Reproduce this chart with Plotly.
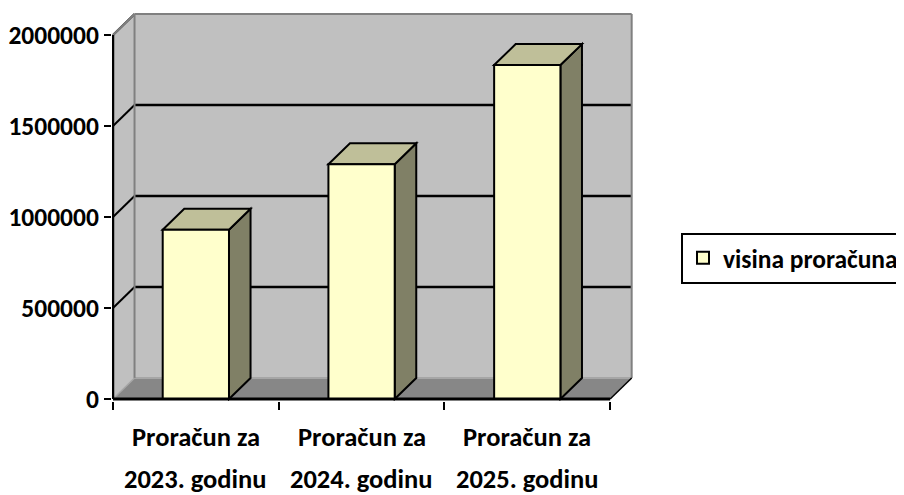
import plotly.graph_objects as go

# ---- data ----
categories_line1 = ["Proračun za", "Proračun za", "Proračun za"]
categories_line2 = ["2023. godinu", "2024. godinu", "2025. godinu"]
values = [930000, 1290000, 1835000]
series_name = "visina proračuna"
y_ticks = [0, 500000, 1000000, 1500000, 2000000]

# ---- style / geometry constants ----
FONT = "Carlito, Calibri, Lato, sans-serif"
FS = 26.5
FS_TICK = 25.5
BAR_W = 0.4          # bar width in category units
DX = 0.13            # depth offset (category units)
DY = 115000          # depth offset (value units)
YMAX = y_ticks[-1]
n = len(values)
xs = list(range(n))

FRONT = "#FFFFCC"
TOP = "#BFBF99"
SIDE = "#808066"
WALL = "#C0C0C0"
FLOOR = "#878787"
EDGE = "#808080"

fig = go.Figure()
fig.add_trace(go.Bar(
    x=xs, y=values, width=BAR_W, name=series_name,
    marker=dict(color=FRONT, line=dict(color="black", width=2)),
    showlegend=True, hoverinfo="y",
))

shapes = []
L, R = -0.5, n - 0.5

def poly(pts, fill, lc="black", lw=0, layer="below"):
    path = "M " + " L ".join(f"{x},{y}" for x, y in pts) + " Z"
    return dict(type="path", path=path, xref="x", yref="y", fillcolor=fill,
                line=dict(color=lc, width=lw), layer=layer)

def line(x0, y0, x1, y1, color="black", width=2, layer="below"):
    return dict(type="line", x0=x0, y0=y0, x1=x1, y1=y1, xref="x", yref="y",
                line=dict(color=color, width=width), layer=layer)

# back wall
shapes.append(poly([(L + DX, DY), (R + DX, DY), (R + DX, YMAX + DY), (L + DX, YMAX + DY)], WALL))
# left wall
shapes.append(poly([(L, 0), (L + DX, DY), (L + DX, YMAX + DY), (L, YMAX)], WALL))
# floor
shapes.append(poly([(L, 0), (R, 0), (R + DX, DY), (L + DX, DY)], FLOOR))
shapes.append(line(L + DX, DY, R + DX, DY, color="#A6A6A6", width=2))
# gridlines on back wall and left wall
for v in y_ticks[1:-1]:
    shapes.append(line(L + DX, v + DY, R + DX, v + DY, width=2.5))
for v in y_ticks[1:]:
    shapes.append(line(L, v, L + DX, v + DY, width=2))
# wall borders
shapes.append(line(L + DX, DY, L + DX, YMAX + DY, color=EDGE, width=2))
shapes.append(line(L + DX, YMAX + DY, R + DX, YMAX + DY, color=EDGE, width=2))
shapes.append(line(R + DX, DY, R + DX, YMAX + DY, color=EDGE, width=2))
shapes.append(line(L, YMAX, L + DX, YMAX + DY, color=EDGE, width=2))
shapes.append(line(L, 0, L + DX, DY, color="#A6A6A6", width=1.5))
# bar side and top faces
for x, v in zip(xs, values):
    xl, xr = x - BAR_W / 2, x + BAR_W / 2
    shapes.append(poly([(xr, 0), (xr + DX, DY), (xr + DX, v + DY), (xr, v)], SIDE, lw=2))
    shapes.append(poly([(xl, v), (xl + DX, v + DY), (xr + DX, v + DY), (xr, v)], TOP, lw=2))
# axis lines
shapes.append(line(R, 0, R + DX, DY, width=1.5, layer="above"))
shapes.append(line(L, 0, R, 0, width=3, layer="above"))
shapes.append(line(L, 0, L, YMAX, width=2.5, layer="above"))

annotations = []
for x, t1, t2 in zip(xs, categories_line1, categories_line2):
    for t, sh in ((t1, -38), (t2, -80)):
        annotations.append(dict(x=x, y=0, xref="x", yref="y", text=t, showarrow=False,
                                yanchor="middle", xanchor="center", yshift=sh,
                                font=dict(family=FONT, size=FS, color="black", weight="bold")))

fig.update_layout(
    width=896, height=487,
    margin=dict(l=104, r=270, t=5, b=94, autoexpand=False),
    paper_bgcolor="white", plot_bgcolor="white",
    shapes=shapes, annotations=annotations,
    font=dict(family=FONT, size=FS, color="black", weight="bold"),
    xaxis=dict(range=[L - 0.006, R + DX + 0.014], tickvals=[i - 0.5 for i in range(n + 1)],
               ticktext=[""] * (n + 1), ticks="outside", ticklen=8, tickwidth=2,
               tickcolor="black", showgrid=False, zeroline=False, showline=False),
    yaxis=dict(range=[-11000, YMAX + DY + 6000], tickvals=y_ticks,
               ticktext=[str(v) for v in y_ticks], ticks="outside", ticklen=7,
               tickwidth=2, tickcolor="black", showgrid=False, zeroline=False,
               showline=False, tickfont=dict(family=FONT, size=FS_TICK, color="black", weight="bold")),
    legend=dict(x=1.09, y=0.368, xanchor="left", yanchor="middle",
                bordercolor="black", borderwidth=2, bgcolor="white",
                font=dict(family=FONT, size=25.5, color="black", weight="bold")),
    showlegend=True,
)

fig.write_html("out.html")
